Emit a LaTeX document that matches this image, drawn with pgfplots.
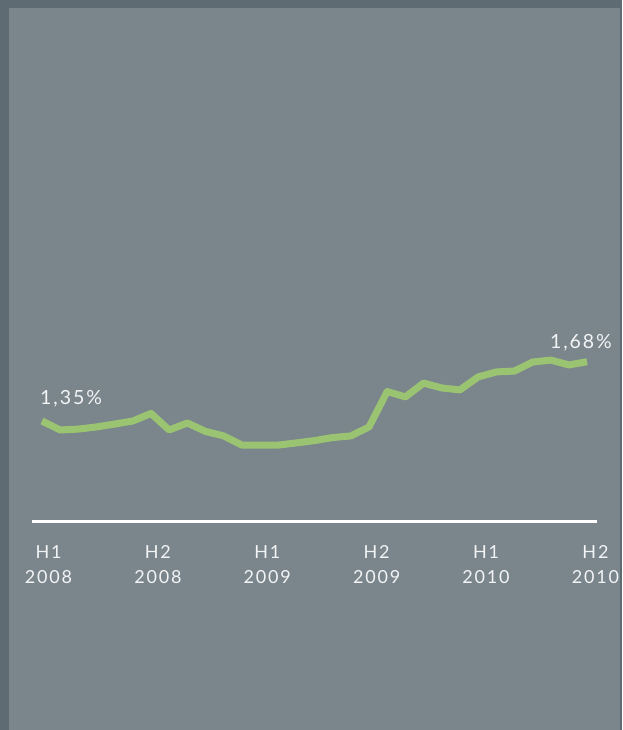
\documentclass[border=0pt]{standalone}
\usepackage{pgfplots}
\pgfplotsset{compat=1.18}
\usepackage{fontspec}
\setmainfont{Lato}[LetterSpace=10]
\definecolor{bgdark}{RGB}{94,107,115}
\definecolor{bggray}{RGB}{123,134,140}
\definecolor{linegreen}{RGB}{155,196,114}
\definecolor{txt}{RGB}{242,244,245}
\begin{document}
\begin{tikzpicture}
\useasboundingbox (0pt,0pt) rectangle (622pt,-730pt);
\fill[bgdark] (0pt,0pt) rectangle (622pt,-730pt);
\fill[bggray] (9pt,-8pt) rectangle (620pt,-730pt);
\begin{axis}[
  at={(32pt,-521pt)}, anchor=south west,
  x=18.17pt, y=179.7pt,
  xmin=-0.55, xmax=30.54, ymin=0.7935, ymax=1.80,
  enlargelimits=false, clip=false,
  axis x line=bottom, axis y line=none,
  axis line style={draw=white, line width=3pt, -},
  major tick length=0pt,
  xtick={0.36,6.38,12.40,18.42,24.44,30.46},
  xticklabels={H1\\2008,H2\\2008,H1\\2009,H2\\2009,H1\\2010,H2\\2010},
  xticklabel style={align=center, anchor=north, inner sep=0pt, yshift=-24pt,
    font=\fontsize{18}{25}\selectfont, text=txt},
  ytick=\empty,
]
\addplot[linegreen, line width=7pt, line join=round, line cap=butt] coordinates {
(0,1.350) (1,1.300) (2,1.305) (3,1.317) (4,1.333) (5,1.350) (6,1.392)
(7,1.300) (8,1.339) (9,1.292) (10,1.267) (11,1.216) (12,1.216) (13,1.216)
(14,1.228) (15,1.241) (16,1.258) (17,1.267) (18,1.317) (19,1.514) (20,1.484)
(21,1.561) (22,1.534) (23,1.523) (24,1.595) (25,1.623) (26,1.628) (27,1.678)
(28,1.689) (29,1.662) (30,1.680)
};
\node[anchor=base west, inner sep=0pt, text=txt, font=\fontsize{19.5}{22}\selectfont] at (axis cs:-0.11,1.4446) {1,35\%};
\node[anchor=base east, inner sep=0pt, text=txt, font=\fontsize{19.5}{22}\selectfont] at (axis cs:31.37,1.756) {1,68\%};
\end{axis}
\end{tikzpicture}
\end{document}
